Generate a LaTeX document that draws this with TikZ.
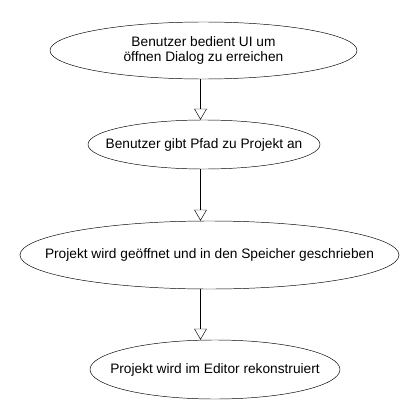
\documentclass[tikz,border=0pt]{standalone}
\usepackage{fontspec}
\setmainfont{Liberation Sans}
\usepackage{tikz}
\usetikzlibrary{arrows.meta, positioning, shapes.geometric}
\newcommand{\ctext}[1]{\makebox[0pt]{#1}}

\begin{document}
\begin{tikzpicture}[x=0.03cm, y=-0.03cm,
      every node/.style={font=\fontsize{11.7}{12.8}\selectfont},
      oval/.style={draw, thin, shape=ellipse, inner sep=0pt, align=center},
      arr/.style={-{Triangle[open, length=3.3mm, width=3.8mm]}, thin}]
    \useasboundingbox (0,0) rectangle (420,420);
    \coordinate (col) at (200.5,0);
    \node[oval, minimum width=9.21cm, minimum height=1.71cm] (ui) at (203.5,50.5)
      {\ctext{Benutzer bedient UI um}\\\ctext{öffnen Dialog zu erreichen}};
    \node[oval, minimum width=6.96cm, minimum height=1.47cm] (pfad) at (204,144.5)
      {\ctext{Benutzer gibt Pfad zu Projekt an}};
    \node[oval, minimum width=11.37cm, minimum height=2.04cm] (oeffnen) at (209.5,255)
      {\ctext{Projekt wird geöffnet und in den Speicher geschrieben}};
    \node[oval, minimum width=7.5cm, minimum height=1.77cm] (rekon) at (215,369.5)
      {\ctext{Projekt wird im Editor rekonstruiert}};
    \draw[arr] (ui.south -| col) -- (pfad.north -| col);
    \draw[arr] (pfad.south -| col) -- (oeffnen.north -| col);
    \draw[arr] (oeffnen.south -| col) -- (rekon.north -| col);
  \end{tikzpicture}
\end{document}
